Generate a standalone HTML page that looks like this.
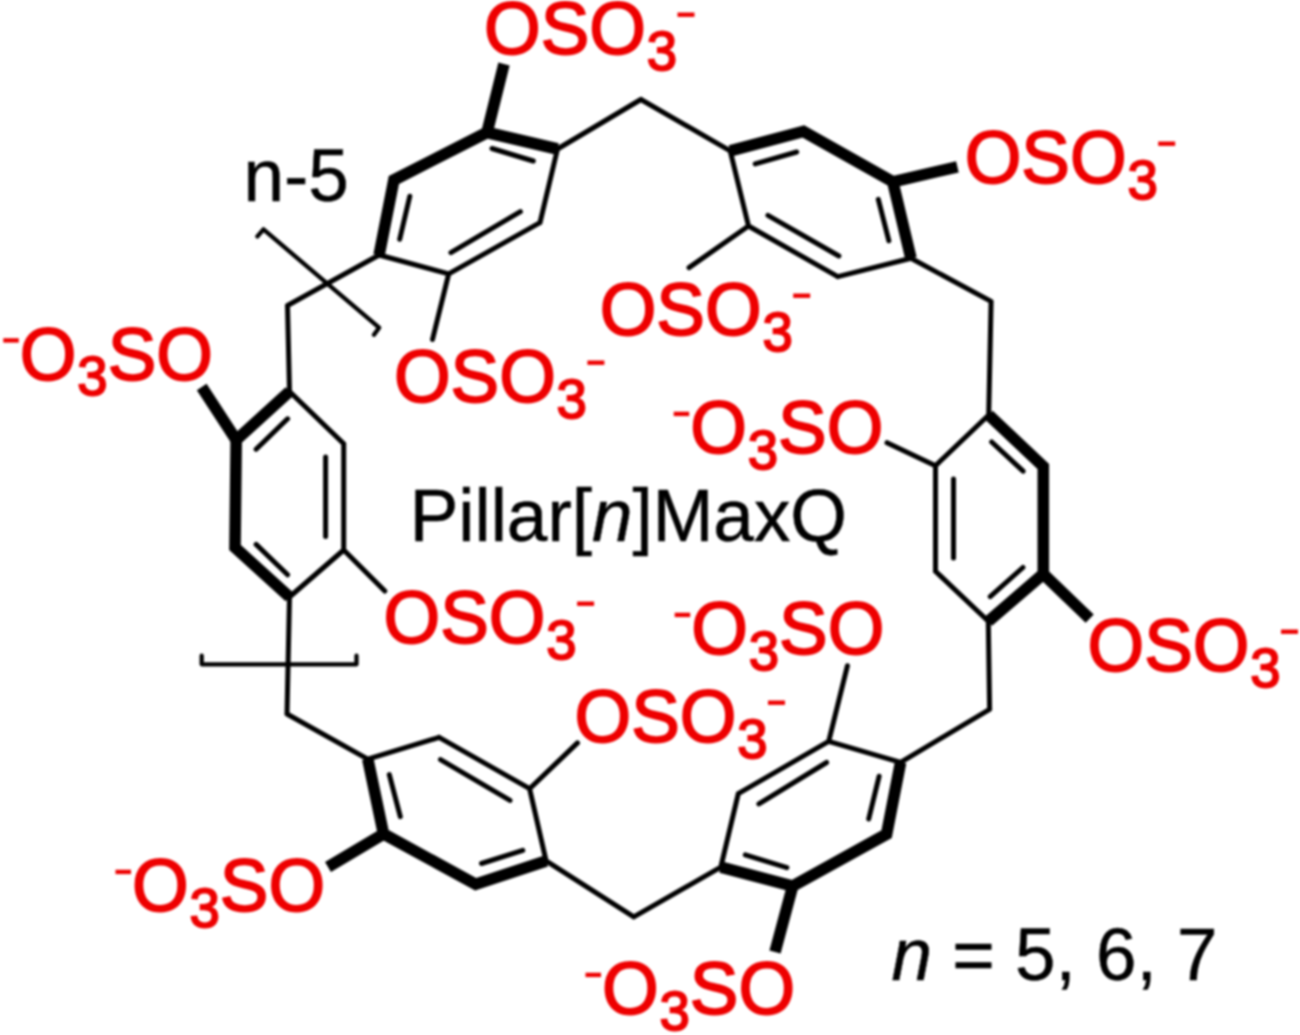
<!DOCTYPE html>
<html><head><meta charset="utf-8"><style>
html,body{margin:0;padding:0;background:#fff;}
svg{display:block;}
text{font-family:"Liberation Sans",sans-serif;}
</style></head><body>
<svg width="1300" height="1035" viewBox="0 0 1300 1035">
<defs><filter id="b" filterUnits="userSpaceOnUse" x="0" y="0" width="1300" height="1035"><feGaussianBlur stdDeviation="0.8"/></filter></defs>
<rect width="1300" height="1035" fill="#fff"/>
<g filter="url(#b)">
<path d="M557.5 149L540 222.6M540 222.6L448.7 273.9M448.7 273.9L379.1 255M911 258.3L837.8 276.6M837.8 276.6L748.5 226M748.5 226L730.2 150.8M289.5 597L343.7 550M343.7 550L343.7 443.7M343.7 443.7L289.5 391.5M988.3 621.3L935.5 571.3M935.5 571.3L935.5 465.7M935.5 465.7L988.7 415M720.8 867.2L738.3 793.6M738.3 793.6L828.7 741.4M828.7 741.4L900.6 762.3M367.8 759.1L439.1 737.4M439.1 737.4L529.6 788.7M529.6 788.7L546.1 860.9M557.5 149L640.9 99.5M640.9 99.5L730.2 150.8M911 258.3L991.1 301.4M991.1 301.4L988.7 415M988.3 621.3L989.6 709.3M989.6 709.3L900.6 762.3M720.8 867.2L633.8 916.9M633.8 916.9L546.1 860.9M367.8 759.1L287 714M287 714L289.5 597M289.5 391.5L287.5 305.5M287.5 305.5L379.1 255M448.7 273.9L432.5 339.5M748.5 226L689 267.6M343.7 550L384.8 591M935.5 465.7L887 442.7M828.7 741.4L847.4 665.8M529.6 788.7L577.5 742.9" stroke="#000" stroke-width="5.0" fill="none" stroke-linecap="round" stroke-linejoin="miter"/><path d="M492 148.5L533.3 161M409.8 196.3L399.7 239.3M520.4 211.7L450.9 252.6M755.2 163.9L796.7 152M878.3 199.3L888.9 240.8M767.9 215.4L838.9 256M287.6 418.8L256.1 449.2M325.6 457L325.6 536.6M256.1 544.4L287.6 574.8M991.7 442L1023.1 471.2M953.5 479L953.5 557.9M1022.9 567.5L990.2 596.6M879.1 776.3L868.7 819M745.3 854.9L786.9 867.6M758.9 803.9L826.6 762.5M389.3 774.6L400.3 816.7M440.5 759.6L510 800.4M481.5 863.5L522.8 850.4" stroke="#000" stroke-width="5.0" fill="none" stroke-linecap="round"/><path d="M379.1 255L393.9 180L487 132.5L557.5 149M730.2 150.8L803.4 131.5L892.8 181.8L911 258.3M289.5 391.5L236.2 440L235 547.5L289.5 597M988.7 415L1043.3 466.5L1043.3 574L988.3 621.3M900.6 762.3L886.6 834.2L792.7 886L720.8 867.2M367.8 759.1L383.5 833.9L475.7 884.3L546.1 860.9" stroke="#000" stroke-width="11.6" fill="none" stroke-linecap="butt" stroke-linejoin="miter" stroke-miterlimit="4"/><path d="M487 132.5L504 64M892.8 181.8L957.4 166.8M236.2 440L201.7 387M1043.3 574L1089.7 618.6M792.7 886L775 952M383.5 833.9L328 867" stroke="#000" stroke-width="11.6" fill="none" stroke-linecap="butt"/><path d="M257.4 236.4L263.5 229.3L379.1 327.7L374 334.8M201.7 655.7L201.7 664.3L356.5 664.3L356.5 655.7" stroke="#000" stroke-width="4.3" fill="none" stroke-linejoin="round" stroke-linecap="round"/>
<g fill="#ee0000" stroke="#ee0000" stroke-width="1.8"><g transform="translate(484,54) scale(1.012,1.04)"><text x="0" y="0" font-size="72">OSO<tspan font-size="54" dx="0.8" dy="14.90">3</tspan></text></g><rect x="677.5" y="12.5" width="17" height="4.4" stroke="none"/><g transform="translate(964.7,183) scale(1.012,1.04)"><text x="0" y="0" font-size="72">OSO<tspan font-size="54" dx="0.8" dy="14.90">3</tspan></text></g><rect x="1158.2" y="141.5" width="17" height="4.4" stroke="none"/><g transform="translate(599.7,335) scale(1.012,1.04)"><text x="0" y="0" font-size="72">OSO<tspan font-size="54" dx="0.8" dy="14.90">3</tspan></text></g><rect x="793.2" y="293.5" width="17" height="4.4" stroke="none"/><g transform="translate(393.9,402) scale(1.012,1.04)"><text x="0" y="0" font-size="72">OSO<tspan font-size="54" dx="0.8" dy="14.90">3</tspan></text></g><rect x="587.4" y="360.5" width="17" height="4.4" stroke="none"/><g transform="translate(383.6,643) scale(1.012,1.04)"><text x="0" y="0" font-size="72">OSO<tspan font-size="54" dx="0.8" dy="14.90">3</tspan></text></g><rect x="577.1" y="601.5" width="17" height="4.4" stroke="none"/><g transform="translate(1087.5,671) scale(1.012,1.04)"><text x="0" y="0" font-size="72">OSO<tspan font-size="54" dx="0.8" dy="14.90">3</tspan></text></g><rect x="1281" y="629.5" width="17" height="4.4" stroke="none"/><g transform="translate(574.5,742) scale(1.012,1.04)"><text x="0" y="0" font-size="72">OSO<tspan font-size="54" dx="0.8" dy="14.90">3</tspan></text></g><rect x="768" y="700.5" width="17" height="4.4" stroke="none"/><g transform="translate(19.8,379.5) scale(1.012,1.04)"><text x="0" y="0" font-size="72">O<tspan font-size="54" dx="0.8" dy="14.90">3</tspan><tspan dy="-14.90">SO</tspan></text></g><rect x="3.3" y="338.2" width="15.5" height="4.4" stroke="none"/><g transform="translate(690.2,453) scale(1.012,1.04)"><text x="0" y="0" font-size="72">O<tspan font-size="54" dx="0.8" dy="14.90">3</tspan><tspan dy="-14.90">SO</tspan></text></g><rect x="673.7" y="411.7" width="15.5" height="4.4" stroke="none"/><g transform="translate(691.2,654) scale(1.012,1.04)"><text x="0" y="0" font-size="72">O<tspan font-size="54" dx="0.8" dy="14.90">3</tspan><tspan dy="-14.90">SO</tspan></text></g><rect x="674.7" y="612.7" width="15.5" height="4.4" stroke="none"/><g transform="translate(132,911) scale(1.012,1.04)"><text x="0" y="0" font-size="72">O<tspan font-size="54" dx="0.8" dy="14.90">3</tspan><tspan dy="-14.90">SO</tspan></text></g><rect x="115.5" y="869.7" width="15.5" height="4.4" stroke="none"/><g transform="translate(602,1014) scale(1.012,1.04)"><text x="0" y="0" font-size="72">O<tspan font-size="54" dx="0.8" dy="14.90">3</tspan><tspan dy="-14.90">SO</tspan></text></g><rect x="585.5" y="972.7" width="15.5" height="4.4" stroke="none"/></g>
<g fill="#000" stroke="#000" stroke-width="0.5"><g transform="translate(409.7,541) scale(1.012,1.025)"><text x="0" y="0" font-size="72">Pillar[<tspan font-style="italic">n</tspan>]MaxQ</text></g><g transform="translate(891.5,980.5) scale(1.012,1.025)"><text x="0" y="0" font-size="72"><tspan font-style="italic">n</tspan> = 5, 6, 7</text></g><g transform="translate(243.5,200.5) scale(1.012,1.025)"><text x="0" y="0" font-size="72">n-5</text></g></g>
</g>
</svg></body></html>
